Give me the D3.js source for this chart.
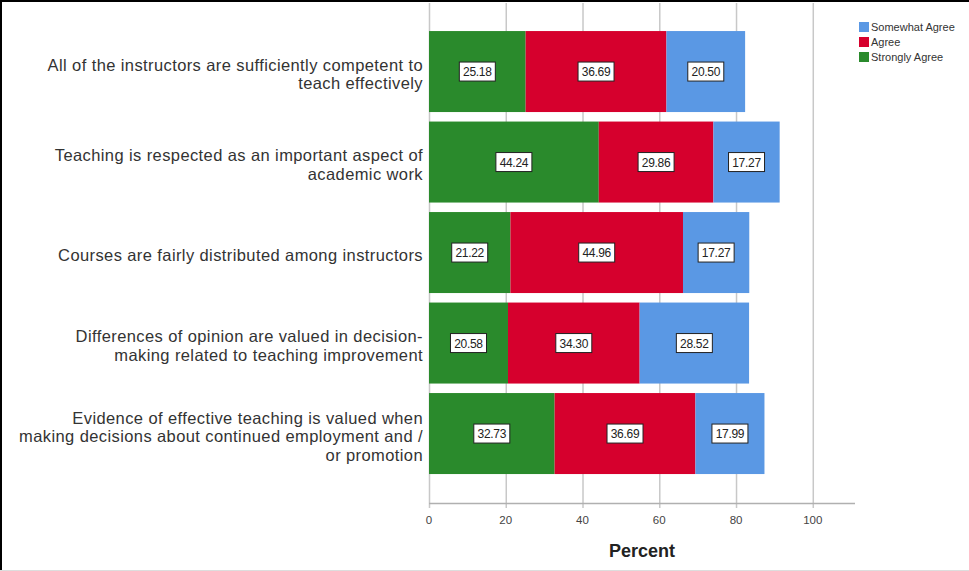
<!DOCTYPE html>
<html><head><meta charset="utf-8">
<script src="https://cdn.jsdelivr.net/npm/d3@7"></script>
<style>body{margin:0;background:#fff;} svg{display:block;font-family:"Liberation Sans",Arial,sans-serif;}</style>
</head><body>
<svg id="c" width="969" height="571"></svg>
<script>
const categories = [
  ["All of the instructors are sufficiently competent to","teach effectively"],
  ["Teaching is respected as an important aspect of","academic work"],
  ["Courses are fairly distributed among instructors"],
  ["Differences of opinion are valued in decision-","making related to teaching improvement"],
  ["Evidence of effective teaching is valued when","making decisions about continued employment and /","or promotion"]
];
const stronglyAgree = [25.18, 44.24, 21.22, 20.58, 32.73];
const agree = [36.69, 29.86, 44.96, 34.30, 36.69];
const somewhatAgree = [20.50, 17.27, 17.27, 28.52, 17.99];
const seriesNames = ["Strongly Agree","Agree","Somewhat Agree"];
const legendOrder = ["Somewhat Agree","Agree","Strongly Agree"];
const xTicks = [0,20,40,60,80,100];
const colors = {"Strongly Agree":"#2a8a2c","Agree":"#d6002d","Somewhat Agree":"#5a98e4"};

const svg = d3.select("#c");
const rows = categories.map((c,i)=>({i, "Strongly Agree":stronglyAgree[i], "Agree":agree[i], "Somewhat Agree":somewhatAgree[i]}));
const x = d3.scaleLinear().domain([0,111]).range([429,855]);
const y = d3.scaleBand().domain(d3.range(categories.length)).range([26.3,478.8]).paddingInner(0.105).paddingOuter(0.0525);

// border
svg.append("line").attr("x1",0).attr("x2",969).attr("y1",1).attr("y2",1).attr("stroke","#000").attr("stroke-width",2);
svg.append("line").attr("x1",1).attr("x2",1).attr("y1",0).attr("y2",571).attr("stroke","#000").attr("stroke-width",2);
svg.append("line").attr("x1",0).attr("x2",969).attr("y1",570.5).attr("y2",570.5).attr("stroke","#ddd").attr("stroke-width",1);

// grid
svg.append("g").selectAll("line").data(xTicks).join("line")
  .attr("x1",d=>x(d)+0.5).attr("x2",d=>x(d)+0.5).attr("y1",3).attr("y2",508)
  .attr("stroke","#c8c8c8").attr("stroke-width",1.5);
svg.append("line").attr("x1",x(0)).attr("x2",855).attr("y1",503.5).attr("y2",503.5).attr("stroke","#b0b0b0").attr("stroke-width",1.5);

// bars
const stack = d3.stack().keys(seriesNames)(rows);
const g = svg.append("g");
stack.forEach(s=>{
  g.selectAll(null).data(s).join("rect")
    .attr("x",d=>x(d[0])).attr("width",d=>x(d[1])-x(d[0]))
    .attr("y",d=>y(d.data.i)).attr("height",y.bandwidth())
    .attr("fill",colors[s.key]);
});
// value labels
stack.forEach(s=>{
  s.forEach(d=>{
    const cx = (x(d[0])+x(d[1]))/2, cy = y(d.data.i)+y.bandwidth()/2;
    const t = (d[1]-d[0]).toFixed(2);
    g.append("rect").attr("x",cx-18).attr("y",cy-9.5).attr("width",36).attr("height",19)
      .attr("fill","#fff").attr("stroke","#222").attr("stroke-width",1);
    g.append("text").attr("x",cx).attr("y",cy+4.5).attr("text-anchor","middle")
      .attr("font-size",12).attr("fill","#222").attr("letter-spacing","-0.3").text(t);
  });
});

// category labels
categories.forEach((lines,i)=>{
  const cy = y(i)+y.bandwidth()/2;
  const lh = 18.5;
  const start = cy - (lines.length-1)*lh/2 + 8.5;
  const t = svg.append("text").attr("text-anchor","end").attr("font-size",16.5).attr("letter-spacing","0.4").attr("fill","#333");
  lines.forEach((ln,j)=>t.append("tspan").attr("x",423).attr("y",start+j*lh).text(ln));
});

// x tick labels
svg.append("g").selectAll("text").data(xTicks).join("text")
  .attr("x",d=>x(d)).attr("y",524).attr("text-anchor","middle")
  .attr("font-size",11.5).attr("fill","#444").text(d=>d);
svg.append("text").attr("x",642).attr("y",557).attr("text-anchor","middle")
  .attr("font-size",18).attr("font-weight","bold").attr("fill","#222").text("Percent");

// legend
const lg = svg.append("g");
legendOrder.forEach((k,i)=>{
  lg.append("rect").attr("x",859).attr("y",22+i*15).attr("width",10).attr("height",10).attr("fill",colors[k]);
  lg.append("text").attr("x",871).attr("y",31+i*15).attr("font-size",11).attr("fill","#333").text(k);
});
</script>
</body></html>
